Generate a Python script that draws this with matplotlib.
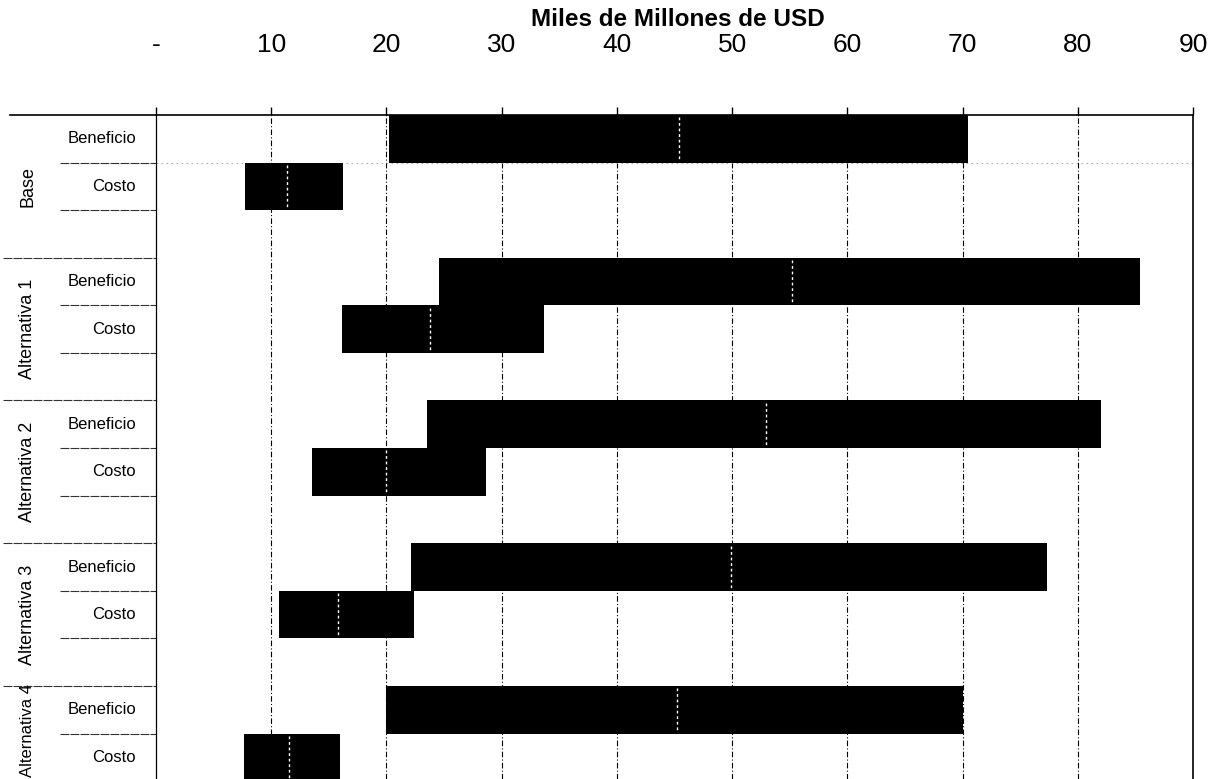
import matplotlib
matplotlib.use("Agg")
import matplotlib.pyplot as plt
import matplotlib.transforms as mtransforms
from matplotlib.lines import Line2D

groups = ['Base', 'Alternativa 1', 'Alternativa 2', 'Alternativa 3', 'Alternativa 4']
sub_labels = ['Beneficio', 'Costo']

ben_min = [20.2, 24.6, 23.5, 22.1, 20.0]
ben_mid = [45.4, 55.2, 52.9, 49.9, 45.2]
ben_max = [70.5, 85.4, 82.0, 77.3, 70.0]

cost_min = [7.7, 16.1, 13.5, 10.7, 7.6]
cost_mid = [11.4, 23.8, 20.0, 15.8, 11.5]
cost_max = [16.2, 33.7, 28.6, 22.4, 16.0]

x_ticks = [0, 10, 20, 30, 40, 50, 60, 70, 80, 90]
x_tick_labels = ['-', '10', '20', '30', '40', '50', '60', '70', '80', '90']

plt.rcParams['font.family'] = ['Liberation Sans', 'DejaVu Sans']

W, H = 1219, 779
fig = plt.figure(figsize=(W / 100, H / 100), dpi=100)
ax_left, ax_right, ax_top = 156, 1193, 115
ax = fig.add_axes([ax_left / W, 0, (ax_right - ax_left) / W, 1 - ax_top / H])

rows_per_group = 3
row_px = 47.58
y_bottom = (H - ax_top) / row_px

# vertical grid
for x in x_ticks[1:-1]:
    ax.axvline(x, color='black', lw=0.8, ls=(0, (5, 2, 1, 2)), zorder=1)
ax.axhline(1, xmin=0, xmax=1, color='#999999', lw=0.6, ls=(0, (2, 4)), zorder=1)

for i in range(len(groups)):
    rb = i * rows_per_group
    rc = rb + 1
    ax.barh(rb + 0.5, ben_max[i] - ben_min[i], left=ben_min[i], height=1.0,
            color='black', zorder=2)
    ax.barh(rc + 0.5, cost_max[i] - cost_min[i], left=cost_min[i], height=1.0,
            color='black', zorder=2)
    ax.vlines(ben_mid[i], rb + 0.05, rb + 0.95, colors='white', lw=1,
              linestyles=(0, (2, 2)), zorder=3)
    ax.vlines(cost_mid[i], rc + 0.05, rc + 0.95, colors='white', lw=1,
              linestyles=(0, (2, 2)), zorder=3)

ax.set_xlim(0, 90)
ax.set_ylim(y_bottom, 0)
ax.set_yticks([])
ax.xaxis.tick_top()
ax.set_xticks(x_ticks)
ax.set_xticklabels(x_tick_labels, fontsize=19)
ax.tick_params(axis='x', direction='out', length=6, width=1, pad=36, top=True, bottom=False)
ax.spines['bottom'].set_visible(False)
for s in ['top', 'left', 'right']:
    ax.spines[s].set_linewidth(1.2)
ax.spines['left'].set_linewidth(0.9)

# category labels on the left
trans = mtransforms.blended_transform_factory(ax.transAxes, ax.transData)
axw = ax_right - ax_left
x_lab = (136 - ax_left) / axw
x_grp = (28 - ax_left) / axw
x_sep_grp = (3 - ax_left) / axw
x_sep_sub = (60 - ax_left) / axw

ax.add_line(Line2D([(10 - ax_left) / axw, 0], [0, 0], transform=trans,
                   color='black', lw=1.2, clip_on=False))
for i, g in enumerate(groups):
    r0 = i * rows_per_group
    for j, s in enumerate(sub_labels):
        ax.text(x_lab, r0 + j + 0.5, s, transform=trans, ha='right', va='center',
                fontsize=12, clip_on=False)
    if i < len(groups) - 1:
        ax.text(x_grp, r0 + 1.5, g, transform=trans, ha='center', va='center',
                rotation=90, fontsize=13, clip_on=False)
    else:
        # last group is cut by the bottom edge: keep its label inside the figure
        ax.text(x_grp, (H - 2 - ax_top) / row_px, g, transform=trans, ha='center',
                va='bottom', rotation=90, fontsize=12, clip_on=False)
    for k in (1, 2):
        ax.add_line(Line2D([x_sep_sub, 0], [r0 + k, r0 + k], transform=trans,
                           color='#333333', lw=0.8, ls=(0, (8, 1)), clip_on=False))
    if i > 0:
        ax.add_line(Line2D([x_sep_grp, 0], [r0, r0], transform=trans,
                           color='#333333', lw=0.8, ls=(0, (8, 1)), clip_on=False))

fig.text(678 / W, 1 - 20 / H, 'Miles de Millones de USD', ha='center', va='center',
         fontsize=17.5, fontweight='bold')

plt.savefig('out.png', dpi=100)
